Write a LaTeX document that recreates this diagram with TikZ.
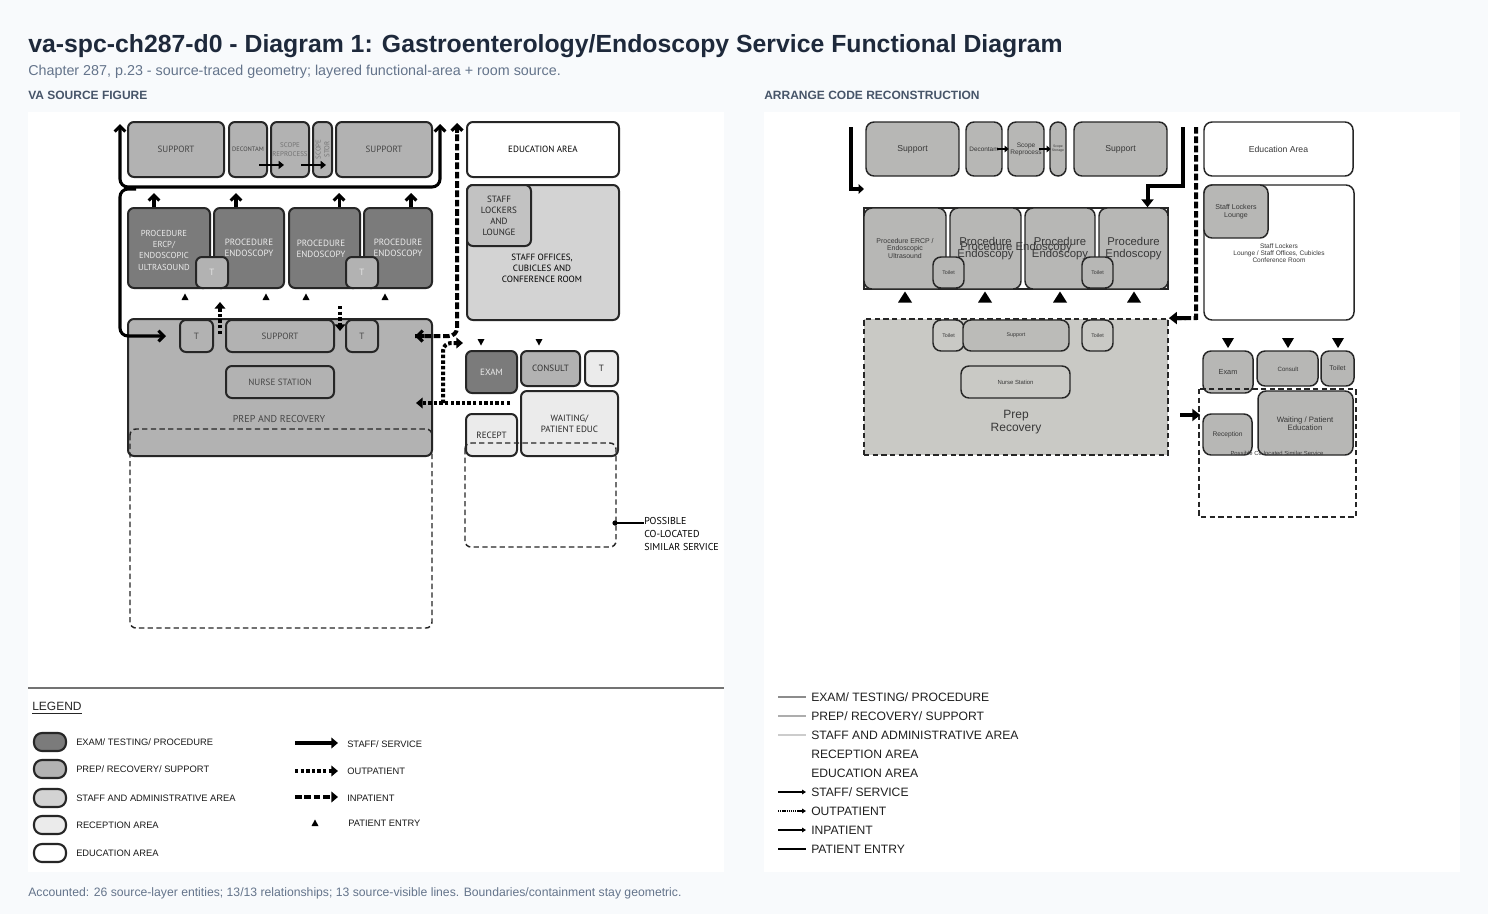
\documentclass[tikz,border=0pt]{standalone}
\usepackage{fontspec}
\setmainfont{Liberation Sans}
\newfontfamily\srcfont{PT Sans}
\usetikzlibrary{arrows.meta}

\definecolor{pagebg}{HTML}{F8FAFC}
\definecolor{titlecol}{HTML}{1E293B}
\definecolor{subcol}{HTML}{64748B}
\definecolor{headcol}{HTML}{475569}
\definecolor{examfill}{HTML}{7B7B7B}
\definecolor{prepfill}{HTML}{B2B2B2}
\definecolor{lockfill}{HTML}{C2C2C2}
\definecolor{stafffill}{HTML}{D3D3D3}
\definecolor{recfill}{HTML}{EBEBEB}
\definecolor{reboxfill}{HTML}{B7B7B5}
\definecolor{reprepfill}{HTML}{C9C9C5}

% one room: [style]{name}{x1}{y1}{x2}{y2}{text}, pixel coordinates
\newcommand{\roombox}[7][]{%
  \node[#1, minimum width={((#5)-(#3))*0.75pt}, minimum height={((#6)-(#4))*0.75pt}]
    (#2) at ({((#3)+(#5))/2},{((#4)+(#6))/2}) {#7};}

\tikzset{
  room/.style={draw=black!85, line width=1.5pt, rounded corners=4.5pt, inner sep=0pt,
    align=center, font=\srcfont\fontsize{6.8}{8.3}\selectfont},
  srcexam/.style={room, fill=examfill, text=white!92!black},
  srcprep/.style={room, fill=prepfill, text=black!72},
  srclock/.style={room, fill=lockfill, text=black!85},
  srcstaff/.style={room, fill=stafffill, text=black!85},
  srcrec/.style={room, fill=recfill, text=black!85},
  srcedu/.style={room, fill=white, text=black},
  srctext/.style={inner sep=0pt, align=center, font=\srcfont\fontsize{6.8}{8.3}\selectfont},
  rebox/.style={draw=black!85, line width=1.1pt, rounded corners=6pt, inner sep=0pt,
    align=center, fill=reboxfill, text=black!78, font=\fontsize{6.5}{7.5}\selectfont},
  reedu/.style={rebox, fill=white},
  reprep/.style={rebox, fill=reprepfill},
  retext/.style={inner sep=0pt, align=center, text=black!78},
  staffln/.style={line width=2.3pt, -{Straight Barb[length=4pt,width=8pt]}},
  outpat/.style={line width=3pt, dash pattern=on 2.6pt off 1.6pt, -{Triangle[length=5pt,width=8pt]}},
  inpat/.style={line width=3pt, dash pattern=on 5pt off 2pt},
  colocated/.style={draw=black!85, line width=1.1pt, dash pattern=on 4pt off 2.5pt, rounded corners=4.5pt},
  restaff/.style={line width=3pt, -{Triangle[length=6pt,width=9pt]}},
  legtext/.style={anchor=west, inner sep=0pt, font=\fontsize{7}{8}\selectfont, text=black!90},
  relegtext/.style={anchor=west, inner sep=0pt, font=\fontsize{9.1}{10}\selectfont, text=black!88},
  head/.style={anchor=base west, inner sep=0pt, font=\bfseries\fontsize{9}{10}\selectfont, text=headcol},
  entryup/.pic={\fill (-3.5,3) -- (3.5,3) -- (0,-3.5) -- cycle;},
  entrydown/.pic={\fill (-3.5,-3) -- (3.5,-3) -- (0,3.5) -- cycle;},
  bigup/.pic={\fill (-7,5.5) -- (7,5.5) -- (0,-5.5) -- cycle;},
  bigdown/.pic={\fill (-6,-5) -- (6,-5) -- (0,5) -- cycle;},
}

\begin{document}
\begin{tikzpicture}[x=0.75pt,y=-0.75pt]
  \useasboundingbox (0,0) rectangle (1488,914);
  \fill[pagebg] (0,0) rectangle (1488,914);
  \fill[white] (28,112) rectangle (724,872);
  \fill[white] (764,112) rectangle (1460,872);

  % headings
  \node[anchor=base west, inner sep=0pt, font=\bfseries\fontsize{18.6}{22}\selectfont, text=titlecol] (title) at (28,52)
    {va-spc-ch287-d0 - Diagram 1: Gastroenterology/Endoscopy Service Functional Diagram};
  \node[anchor=base west, inner sep=0pt, font=\fontsize{10.75}{12}\selectfont, text=subcol] (subtitle) at (28,75)
    {Chapter 287, p.23 - source-traced geometry; layered functional-area + room source.};
  \node[head] (srchead) at (28,99) {VA SOURCE FIGURE};
  \node[head] (rehead) at (764,99) {ARRANGE CODE RECONSTRUCTION};
  \node[anchor=base west, inner sep=0pt, font=\fontsize{9.15}{10}\selectfont, text=subcol] (footer) at (28,896)
    {Accounted: 26 source-layer entities; 13/13 relationships; 13 source-visible lines. Boundaries/containment stay geometric.};

  %% source figure
  \roombox[srcprep]{supA}{128}{122}{224}{177}{SUPPORT}
  \roombox[srcprep, font=\srcfont\fontsize{4.8}{5.5}\selectfont]{decon}{229}{122}{267}{177}{DECONTAM}
  \roombox[srcprep, font=\srcfont\fontsize{5.2}{7}\selectfont, text=black!55]{reproc}{271}{122}{309}{177}{SCOPE\\REPROCESS}
  \roombox[srcprep]{stor}{313}{122}{332}{177}{}
  \node[srctext, rotate=90, font=\srcfont\fontsize{5.2}{6.5}\selectfont, text=black!55] (stortext) at (stor) {SCOPE\\STOR};
  \roombox[srcprep]{supB}{336}{122}{432}{177}{SUPPORT}

  \roombox[srcexam, font=\srcfont\fontsize{6.5}{8.5}\selectfont]{procA}{128}{208}{210}{288}{}
  \node[srctext, font=\srcfont\fontsize{6.5}{8.5}\selectfont, text=white!92!black] (procAtext) at (164,250)
    {PROCEDURE\\ERCP/\\ENDOSCOPIC\\ULTRASOUND};
  \roombox[srcexam]{procB}{214}{208}{284}{288}{PROCEDURE\\ENDOSCOPY}
  \roombox[srcexam]{procC}{289}{208}{360}{288}{}
  \node[srctext, text=white!92!black] (procCtext) at (321,249) {PROCEDURE\\ENDOSCOPY};
  \roombox[srcexam]{procD}{364}{208}{432}{288}{PROCEDURE\\ENDOSCOPY}
  \roombox[srcprep, text=white!90!black]{tA}{196}{257}{228}{288}{T}
  \roombox[srcprep, text=white!90!black]{tB}{346}{257}{378}{288}{T}

  \roombox[srcprep]{prep}{128}{319}{432}{456}{}
  \node[srctext, font=\srcfont\fontsize{7.5}{9}\selectfont, text=black!72] (preptext) at (279,419) {PREP AND RECOVERY};
  \roombox[srcprep]{tC}{180}{320}{213}{352}{T}
  \roombox[srcprep]{supC}{226}{320}{334}{352}{SUPPORT}
  \roombox[srcprep]{tD}{346}{320}{378}{352}{T}
  \roombox[srcprep]{nurse}{226}{366}{334}{398}{NURSE STATION}
  \draw[colocated] (130,429) rectangle (432,628);

  \roombox[srcedu]{edu}{467}{122}{619}{177}{EDUCATION AREA}
  \roombox[srcstaff]{offices}{467}{185}{619}{320}{}
  \node[srctext] (officestext) at (542,268) {STAFF OFFICES,\\CUBICLES AND\\CONFERENCE ROOM};
  \roombox[srclock]{lockers}{467}{185}{531}{246}{STAFF\\LOCKERS\\AND\\LOUNGE}

  \roombox[srcexam]{exam}{466}{351}{517}{393}{EXAM}
  \roombox[srcprep, text=black!80]{consult}{521}{351}{580}{386}{CONSULT}
  \roombox[srcrec]{tE}{585}{351}{618}{386}{T}
  \roombox[srcrec]{recept}{466}{414}{517}{456}{RECEPT}
  \roombox[srcrec]{waiting}{521}{391}{618}{456}{WAITING/\\PATIENT EDUC}
  \draw[colocated] (465,443) rectangle (616,547);

  \coordinate (coloc) at (615,523);
  \node[anchor=north west, inner sep=0pt, align=left, font=\srcfont\fontsize{7.5}{9.75}\selectfont] (colocnote) at (644,517)
    {POSSIBLE\\CO-LOCATED\\SIMILAR SERVICE};
  \fill (coloc) circle (2.6);
  \draw[line width=1.2pt] (coloc) -- (colocnote.west |- coloc);

  % staff / service corridor
  \coordinate (stTL) at (120,124);
  \coordinate (stTR) at (440,124);
  \coordinate (corrL) at (120,187);
  \coordinate (corrR) at (440,187);
  \coordinate (prepIn) at (166,336);
  \draw[staffln, {Straight Barb[length=4pt,width=8pt]}-{Straight Barb[length=4pt,width=8pt]}, rounded corners=6pt]
    (stTL) -- (corrL) -- (corrR) -- (stTR);
  \draw[staffln, rounded corners=6pt] (136,189) -| (prepIn -| corrL) -- (prepIn);
  \draw[staffln] ([xshift=-11.25pt]procA.north) -- ++(0,-14);
  \draw[staffln] ([xshift=-9.75pt]procB.north) -- ++(0,-14);
  \draw[staffln] ([xshift=10.9pt]procC.north) -- ++(0,-14);
  \draw[staffln] ([xshift=9.75pt]procD.north) -- ++(0,-14);
  \draw[line width=2pt, -{Triangle[length=4pt,width=6pt]}] ([xshift=-6.75pt,yshift=-11.6pt]decon.east) -- ++(25,0);
  \draw[line width=2pt, -{Triangle[length=4pt,width=6pt]}] ([xshift=-6.75pt,yshift=-11.6pt]reproc.east) -- ++(25,0);

  % patients
  \coordinate (inTop) at (457,123);
  \coordinate (inPrep) at (415,336);
  \draw[inpat, rounded corners=6pt] (inPrep) -- (457,336) -- (inTop);
  \draw[line width=2.5pt, -{Straight Barb[length=4pt,width=8pt]}] (424,336) -- (inPrep);
  \draw[line width=2.5pt, -{Straight Barb[length=4pt,width=8pt]}] (457,133) -- (inTop);
  \coordinate (opPrep) at (416,403);
  \coordinate (opEnd) at (510,403);
  \draw[outpat] (opEnd) -- (opPrep);
  \draw[outpat, rounded corners=6pt] (443,403) |- ([xshift=-1.5pt]exam.north west |- 0,343);
  \draw[outpat] (tC.east -| 220,0) ++(0,-2) -- (220,302);
  \draw[outpat] (340,306) -- (340,331);

  \foreach \px in {185,266,306,385} \pic at (\px,297) {entryup};
  \foreach \px in {481,539} \pic at (\px,342) {entrydown};

  % legend
  \draw[black!55, line width=0.8pt] (28,688) -- (724,688);
  \node[anchor=west, inner sep=0pt, font=\fontsize{9}{10}\selectfont, text=black!85] (legend) at (32,708) {\underline{LEGEND}};
  \foreach \ly/\lc/\lt [count=\i] in {742/examfill/{EXAM/ TESTING/ PROCEDURE},
      769/prepfill/{PREP/ RECOVERY/ SUPPORT}, 798/stafffill/{STAFF AND ADMINISTRATIVE AREA},
      825/recfill/{RECEPTION AREA}, 853/white/{EDUCATION AREA}} {
    \roombox[room, fill=\lc, line width=1.6pt, rounded corners=6pt]{lgsw\i}{34}{\ly-9}{66}{\ly+9}{}
    \node[legtext] (lgtx\i) at (76,\ly) {\lt};
  }
  \coordinate (lgA0) at (295,743); \coordinate (lgA1) at (338,743);
  \coordinate (lgB0) at (295,771); \coordinate (lgB1) at (338,771);
  \coordinate (lgC0) at (295,797); \coordinate (lgC1) at (338,797);
  \draw[line width=2.3pt, -{Triangle[length=5pt,width=8pt]}] (lgA0) -- (lgA1);
  \draw[outpat] (lgB0) -- (lgB1);
  \draw[inpat, -{Triangle[length=5pt,width=8pt]}] (lgC0) -- (lgC1);
  \pic at (315,823) {entryup};
  \node[legtext] (lgtxA) at (347,744) {STAFF/ SERVICE};
  \node[legtext] (lgtxB) at (347,771) {OUTPATIENT};
  \node[legtext] (lgtxC) at (347,798) {INPATIENT};
  \node[legtext] (lgtxD) at (348,823) {PATIENT ENTRY};

  %% reconstruction
  \roombox[rebox]{rSupA}{866}{122}{959}{176}{Support}
  \roombox[rebox, font=\fontsize{4.8}{5.5}\selectfont]{rDecon}{966}{122}{1002}{176}{Decontam}
  \roombox[rebox, font=\fontsize{4.9}{5.4}\selectfont]{rReproc}{1008}{122}{1044}{176}{Scope\\Reprocess}
  \roombox[rebox, font=\fontsize{2.6}{3}\selectfont]{rStor}{1050}{122}{1066}{176}{Scope\\Storage}
  \roombox[rebox]{rSupB}{1074}{122}{1167}{176}{Support}
  \roombox[reedu]{rEdu}{1204}{122}{1353}{176}{Education Area}
  \draw[line width=2.2pt, -{Triangle[length=3pt,width=5pt]}] ([xshift=-4pt]rDecon.east) -- ([xshift=1pt]rReproc.west);
  \draw[line width=2.2pt, -{Triangle[length=3pt,width=5pt]}] ([xshift=-4pt]rReproc.east) -- ([xshift=1pt]rStor.west);

  \draw[black!85, line width=1.1pt] (864,208) rectangle (1168,289);
  \roombox[rebox, font=\fontsize{5.2}{5.6}\selectfont]{rProcA}{864}{208}{946}{289}{Procedure ERCP /\\Endoscopic\\Ultrasound}
  \roombox[rebox, font=\fontsize{8.5}{8.8}\selectfont]{rProcB}{950}{208}{1021}{289}{Procedure\\Endoscopy}
  \roombox[rebox, font=\fontsize{8.5}{8.8}\selectfont]{rProcC}{1025}{208}{1095}{289}{Procedure\\Endoscopy}
  \roombox[rebox, font=\fontsize{8.5}{8.8}\selectfont]{rProcD}{1099}{208}{1168}{289}{Procedure\\Endoscopy}
  \node[retext, font=\fontsize{8.5}{8.8}\selectfont] (rProcLine) at (1016,248) {Procedure Endoscopy};
  \roombox[rebox, font=\fontsize{4}{5}\selectfont]{rTA}{933}{257}{964}{288}{Toilet}
  \roombox[rebox, font=\fontsize{4}{5}\selectfont]{rTB}{1082}{257}{1113}{288}{Toilet}
  \foreach \px in {905,985,1060,1134} \pic at (\px,297) {bigup};

  \roombox[reprep, rounded corners=0pt, dash pattern=on 4pt off 2.5pt, line width=1.3pt]{rPrep}{864}{319}{1168}{455}{}
  \node[retext, font=\fontsize{9}{9.8}\selectfont] (rPrepText) at (1016,422) {Prep\\Recovery};
  \roombox[reprep, font=\fontsize{4}{5}\selectfont]{rTC}{933}{320}{964}{351}{Toilet}
  \roombox[rebox, fill=reboxfill!80!reprepfill, font=\fontsize{4}{5}\selectfont]{rSupC}{963}{320}{1069}{351}{Support}
  \roombox[reprep, font=\fontsize{4}{5}\selectfont]{rTD}{1082}{320}{1113}{351}{Toilet}
  \roombox[reprep, font=\fontsize{4.45}{5}\selectfont]{rNurse}{961}{366}{1070}{398}{Nurse Station}

  \roombox[reedu]{rStaff}{1204}{185}{1354}{320}{}
  \node[retext, font=\fontsize{4.9}{5.3}\selectfont] (rStaffText) at (1279,253)
    {Staff Lockers\\Lounge / Staff Offices, Cubicles\\Conference Room};
  \roombox[rebox]{rLockers}{1204}{185}{1268}{238}{}
  \node[retext, font=\fontsize{5.3}{5.8}\selectfont] (rLockText) at (1236,212) {Staff Lockers\\Lounge};

  \foreach \px in {1228,1288,1338} \pic at (\px,343) {bigdown};
  \roombox[rebox, font=\fontsize{5.5}{6}\selectfont]{rExam}{1203}{351}{1253}{393}{Exam}
  \roombox[rebox, font=\fontsize{4.6}{5}\selectfont]{rConsult}{1257}{351}{1318}{386}{}
  \node[retext, font=\fontsize{4.6}{5}\selectfont] (rConsText) at (1288,369) {Consult};
  \roombox[rebox, font=\fontsize{5.2}{5.6}\selectfont]{rToilet}{1321}{351}{1354}{386}{Toilet}
  \draw[black!85, line width=1.3pt, dash pattern=on 4pt off 2.5pt] (1199,389) rectangle (1356,517);
  \roombox[rebox, font=\fontsize{5}{5.5}\selectfont]{rRecept}{1203}{414}{1252}{455}{Reception}
  \roombox[rebox]{rWait}{1258}{391}{1353}{455}{}
  \node[retext, font=\fontsize{5.85}{6.3}\selectfont] (rWaitText) at (1305,424) {Waiting / Patient\\Education};
  \node[retext, font=\fontsize{4.4}{5}\selectfont] (rColocText) at (1277,453) {Possible Co-located Similar Service};

  % reconstruction connectors
  \coordinate (rL0) at (851,127);
  \coordinate (rL1) at (864,189);
  \draw[restaff, -{Triangle[length=4pt,width=7pt]}] (rL0) |- (rL1);
  \coordinate (rR0) at (1183,127);
  \draw[restaff] (rR0) |- ([xshift=10.5pt]rProcD.north |- 0,186) -- ([xshift=10.5pt]rProcD.north);
  \coordinate (rIn0) at (1196,127);
  \coordinate (rIn1) at (1196,318);
  \draw[inpat, line width=3pt] (rIn0) -- (rIn1) -- ([xshift=6pt]rPrep.north east);
  \draw[line width=3pt, -{Triangle[length=6pt,width=9pt]}] (1186,318) -- (rPrep.north east);
  \coordinate (rRec0) at (1180,415);
  \draw[restaff] (rRec0) -- ([xshift=-1.5pt]rRecept.west |- rRec0);

  % reconstruction legend
  \foreach \ly/\lc/\lt [count=\i] in {697/black!45/{EXAM/ TESTING/ PROCEDURE}, 716/black!32/{PREP/ RECOVERY/ SUPPORT},
      735/black!20/{STAFF AND ADMINISTRATIVE AREA}, 754/white/{RECEPTION AREA}, 773/white/{EDUCATION AREA}} {
    \coordinate (rlg\i) at (778,\ly);
    \draw[\lc, line width=1.1pt] (rlg\i) -- ++(28,0);
    \node[relegtext] (rlgtx\i) at (811,\ly) {\lt};
  }
  \coordinate (rlgA) at (778,792);
  \coordinate (rlgB) at (778,811);
  \coordinate (rlgC) at (778,830);
  \coordinate (rlgD) at (778,849);
  \draw[line width=1.1pt, -{Triangle[length=3pt,width=3.5pt]}] (rlgA) -- ++(28,0);
  \draw[line width=1.1pt, dash pattern=on 1pt off 0.6pt, -{Triangle[length=3pt,width=3.5pt]}] (rlgB) -- ++(28,0);
  \draw[line width=1.3pt, -{Triangle[length=3pt,width=3.5pt]}] (rlgC) -- ++(28,0);
  \draw[line width=1.1pt] (rlgD) -- ++(28,0);
  \node[relegtext] (rlgtxA) at (811,792) {STAFF/ SERVICE};
  \node[relegtext] (rlgtxB) at (811,811) {OUTPATIENT};
  \node[relegtext] (rlgtxC) at (811,830) {INPATIENT};
  \node[relegtext] (rlgtxD) at (811,849) {PATIENT ENTRY};
\end{tikzpicture}
\end{document}
